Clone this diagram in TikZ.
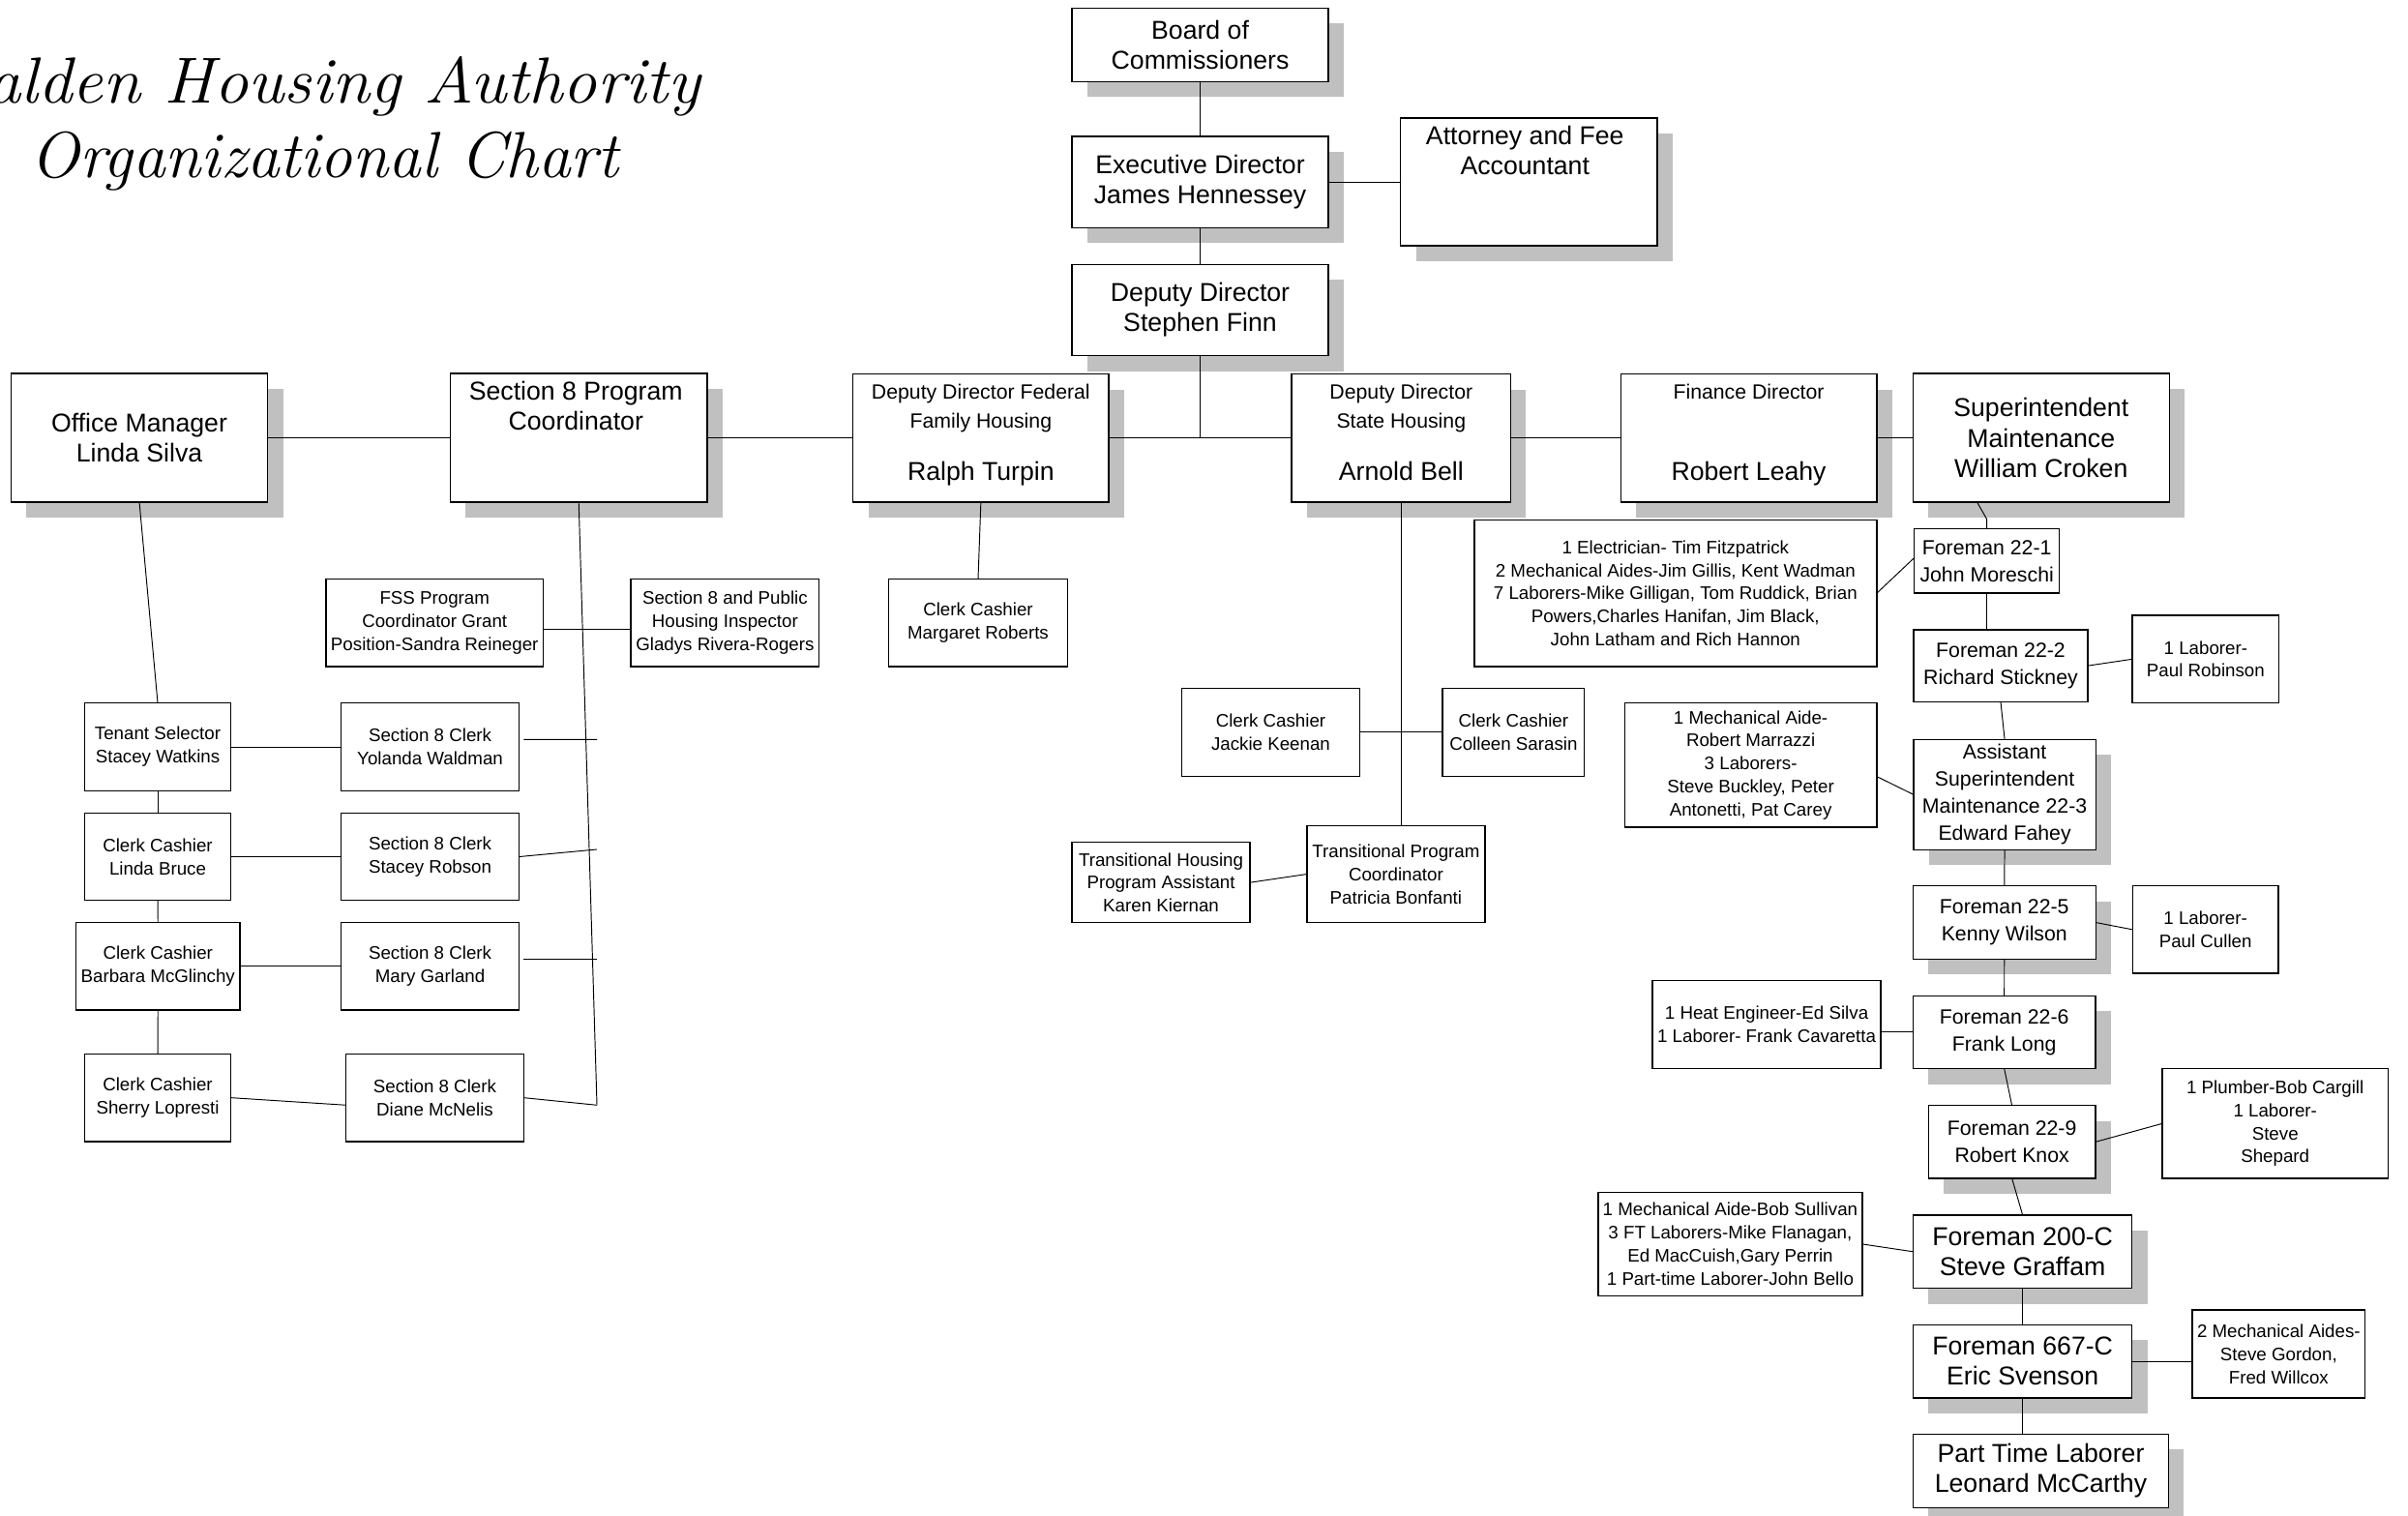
\documentclass[tikz,border=0pt]{standalone}
\usepackage{fontspec}
\newfontfamily\arial{Liberation Sans}
\usetikzlibrary{shadows,calc}
\definecolor{shgray}{RGB}{192,192,192}
\newcommand\fbig{\arial\fontsize{16.8}{19.6}\selectfont}
\newcommand\fmed{\arial\fontsize{13.4}{17.6}\selectfont}
\newcommand\fsml{\arial\fontsize{11.8}{15}\selectfont}
\newcommand\obx[7][box]{\node[#1, minimum width={(#5)-(#3)}, minimum height={(#6)-(#4)}] (#2) at ({((#3)+(#5))/2},{((#4)+(#6))/2}) {#7};}
\begin{document}
\begin{tikzpicture}[x=1pt, y=-1pt,
  box/.style={draw, line width=0.9pt, fill=white, inner sep=0pt, outer sep=0pt, align=center, font=\fsml},
  sbox/.style={box, drop shadow={shadow xshift=10pt, shadow yshift=-10pt, fill=shgray, opacity=1}},
  conn/.style={line width=0.6pt},
  lbl/.style={anchor=base, inner sep=0pt, align=center},
  ttl/.style={inner sep=0pt, font=\fontsize{42.4}{42.4}\selectfont\itshape}]
\useasboundingbox (0,0) rectangle (1568,987);
\fill[white] (0,0) rectangle (1568,987);
% title
\node[ttl, anchor=base east, xscale=1.05] (title1) at (456.4,67.2) {Malden Housing Authority};
\node[ttl, anchor=base] (title2) at (211.5,115.5) {Organizational Chart};
% top
\obx[sbox, font=\fbig]{board}{698.1}{5.3}{864.9}{53.1}{Board of\\Commissioners}
\obx[sbox, font=\fbig]{exec}{698.1}{88.8}{864.9}{148.2}{Executive Director\\James Hennessey}
\obx[sbox]{att}{912}{76.9}{1079}{160}{}
\obx[sbox, font=\fbig]{finn}{698.1}{172.2}{864.9}{231.6}{Deputy Director\\Stephen Finn}
% second row
\obx[sbox, font=\fbig]{om}{7.2}{243.2}{174.3}{327}{Office Manager\\Linda Silva}
\obx[sbox]{s8pc}{293.3}{243.2}{460.4}{327}{}
\obx[sbox]{fed}{555.4}{243.6}{722}{327}{}
\obx[sbox]{state}{841}{243.6}{983.7}{327}{}
\obx[sbox]{fin}{1055.4}{243.6}{1222}{327}{}
\obx[sbox, font=\fbig]{sup}{1245.6}{243.2}{1412.6}{327}{Superintendent\\Maintenance\\William Croken}
% left column
\obx{fss}{212.3}{376.9}{353.7}{434}{FSS Program\\Coordinator Grant\\Position-Sandra Reineger}
\obx{insp}{410.8}{376.9}{533.4}{434}{Section 8 and Public\\Housing Inspector\\Gladys Rivera-Rogers}
\obx{tenant}{55}{457.8}{150.4}{514.9}{Tenant Selector\\Stacey Watkins}
\obx{yol}{222}{457.8}{338.1}{514.9}{Section 8 Clerk\\Yolanda Waldman}
\obx{linda}{55}{529.4}{150.4}{586.3}{Clerk Cashier\\Linda Bruce}
\obx{stacey}{222}{529.4}{338.1}{586.3}{Section 8 Clerk\\Stacey Robson}
\obx{barb}{49.5}{600.6}{156.2}{657.7}{Clerk Cashier\\Barbara McGlinchy}
\obx{mary}{222}{600.6}{338.1}{657.7}{Section 8 Clerk\\Mary Garland}
\obx{sherry}{55}{686.2}{150.4}{743.4}{Clerk Cashier\\Sherry Lopresti}
\obx{diane}{225.3}{686.2}{341}{743.4}{Section 8 Clerk\\Diane McNelis}
% middle
\obx{marg}{578.8}{377}{695}{434}{Clerk Cashier\\Margaret Roberts}
\obx{jackie}{769.5}{448.3}{885.4}{505.4}{Clerk Cashier\\Jackie Keenan}
\obx{colleen}{939.4}{448.3}{1031.6}{505.4}{Clerk Cashier\\Colleen Sarasin}
\obx{tpc}{851}{537.6}{967}{600.8}{Transitional Program\\Coordinator\\Patricia Bonfanti}
\obx{thpa}{698}{548.5}{814}{600.8}{Transitional Housing\\Program Assistant\\Karen Kiernan}
% right
\obx{crew1}{960}{338.7}{1222}{434}{1 Electrician- Tim Fitzpatrick\\2 Mechanical Aides-Jim Gillis, Kent Wadman\\7 Laborers-Mike Gilligan, Tom Ruddick, Brian\\Powers,Charles Hanifan, Jim Black,\\John Latham and Rich Hannon}
\obx[box, font=\fmed]{f221}{1246.5}{344.4}{1341}{386.2}{Foreman 22-1\\John Moreschi}
\obx[box, font=\fmed]{f222}{1246}{410}{1359.5}{457}{Foreman 22-2\\Richard Stickney}
\obx{lab1}{1388.5}{400.6}{1484}{457.8}{1 Laborer-\\Paul Robinson}
\obx{crew2}{1058}{457.8}{1222}{538.6}{1 Mechanical Aide-\\Robert Marrazzi\\3 Laborers-\\Steve Buckley, Peter\\Antonetti, Pat Carey}
\obx[sbox, font=\fmed]{asst}{1246}{481.5}{1364.7}{553.3}{Assistant\\Superintendent\\Maintenance 22-3\\Edward Fahey}
\obx[sbox, font=\fmed]{f225}{1245.6}{576.9}{1364.7}{624.5}{Foreman 22-5\\Kenny Wilson}
\obx{cullen}{1388.6}{576.9}{1483.6}{633.7}{1 Laborer-\\Paul Cullen}
\obx{crew3}{1076}{638.6}{1224.7}{695.9}{1 Heat Engineer-Ed Silva\\1 Laborer- Frank Cavaretta}
\obx[sbox, font=\fmed]{f226}{1245.8}{648.4}{1364.4}{695.9}{Foreman 22-6\\Frank Long}
\obx[sbox, font=\fmed]{f229}{1255.8}{719.9}{1364.4}{767.3}{Foreman 22-9\\Robert Knox}
\obx{plumb}{1408}{695.9}{1555}{767.3}{1 Plumber-Bob Cargill\\1 Laborer-\\Steve\\Shepard}
\obx{crew4}{1040.7}{776.5}{1212.6}{843.7}{1 Mechanical Aide-Bob Sullivan\\3 FT Laborers-Mike Flanagan,\\Ed MacCuish,Gary Perrin\\1 Part-time Laborer-John Bello}
\obx[sbox, font=\fbig]{f200}{1245.8}{791.2}{1388.3}{838.9}{Foreman 200-C\\Steve Graffam}
\obx[sbox, font=\fbig]{f667}{1245.8}{862.6}{1388.3}{910.3}{Foreman 667-C\\Eric Svenson}
\obx{aides}{1427.6}{853}{1540}{910.3}{2 Mechanical Aides-\\Steve Gordon,\\Fred Willcox}
\obx[sbox, font=\fbig]{pt}{1245.8}{933.8}{1412}{981.7}{Part Time Laborer\\Leonard McCarthy}
% texts of top-aligned boxes
\node[lbl, font=\fbig] (att1) at (993,94.1) {Attorney and Fee};
\node[lbl, font=\fbig] (att2) at (993,114) {Accountant};
\node[lbl, font=\fbig] (s8t1) at (375,260.4) {Section 8 Program};
\node[lbl, font=\fbig] (s8t2) at (375,280.3) {Coordinator};
\node[lbl, font=\fmed] (fedt1) at (638.7,260) {Deputy Director Federal};
\node[lbl, font=\fmed] (fedt2) at (638.7,278.5) {Family Housing};
\node[lbl, font=\fbig] (fedt3) at (638.7,312.5) {Ralph Turpin};
\node[lbl, font=\fmed] (stt1) at (912.4,260) {Deputy Director};
\node[lbl, font=\fmed] (stt2) at (912.4,278.5) {State Housing};
\node[lbl, font=\fbig] (stt3) at (912.4,312.5) {Arnold Bell};
\node[lbl, font=\fmed] (fint1) at (1138.7,260) {Finance Director};
\node[lbl, font=\fbig] (fint2) at (1138.7,312.5) {Robert Leahy};
% connectors
\draw[conn] (board.south) -- (exec.north);
\draw[conn] (exec.south) -- (finn.north);
\draw[conn] (exec.east) -- (exec.east -| att.west);
\draw[conn] (finn.south) -- (finn.south |- fed.east);
\draw[conn] (om.east) -- (om.east -| s8pc.west);
\draw[conn] (s8pc.east) -- (s8pc.east -| fed.west);
\draw[conn] (fed.east) -- (state.west);
\draw[conn] (state.east) -- (fin.west);
\draw[conn] (fin.east) -- (fin.east -| sup.west);
\draw[conn] (om.south) -- (tenant.north);
\draw[conn] (tenant.south) -- (linda.north);
\draw[conn] (linda.south) -- (barb.north);
\draw[conn] (barb.south) -- (sherry.north);
\draw[conn] (tenant.east) -- (yol.west);
\draw[conn] (linda.east) -- (stacey.west);
\draw[conn] (barb.east) -- (mary.west);
\draw[conn] (sherry.east) -- ([yshift=-4.8pt]diane.west);
\coordinate (s8bot) at (388.7,719.6);
\coordinate (yolend) at (388.7,481.5);
\coordinate (stend) at (388.7,553.1);
\coordinate (maryend) at (388.7,624.5);
\draw[conn] (s8pc.south) -- (s8bot);
\draw[conn] ([xshift=2.9pt,yshift=4.85pt]yol.east) -- (yolend);
\draw[conn] (stacey.east) -- (stend);
\draw[conn] ([xshift=2.9pt,yshift=4.65pt]mary.east) -- (maryend);
\draw[conn] (diane.east) -- (s8bot);
\draw[conn] ([yshift=-4.5pt]fss.east) -- ([yshift=-4.5pt]fss.east -| insp.west);
\draw[conn] (fed.south) -- (marg.north);
\draw[conn] (state.south) -- (state.south |- tpc.north);
\draw[conn] (jackie.east) -- (colleen.west);
\draw[conn] (thpa.east) -- (tpc.west);
\coordinate (supk) at ($(f221.north)+(0,-6.3)$);
\draw[conn] ([xshift=-41.7pt]sup.south) -- (supk) -- (f221.north);
\draw[conn] (crew1.east) -- ([yshift=2.1pt]f221.west);
\draw[conn] (f221.south) -- (f221.south |- f222.north);
\draw[conn] (f222.south) -- (asst.north);
\draw[conn] (f222.east) -- (lab1.west);
\draw[conn] ([yshift=-7.4pt]crew2.east) -- (asst.west);
\draw[conn] (asst.south) -- (f225.north);
\draw[conn] (f225.east) -- (cullen.west);
\draw[conn] (f225.south) -- (f226.north);
\draw[conn] (f226.west -| crew3.east) -- (f226.west);
\draw[conn] (f226.south) -- (f229.north);
\draw[conn] (f229.east) -- (plumb.west);
\draw[conn] (f229.south) -- (f200.north);
\draw[conn] (crew4.east) -- (f200.west);
\draw[conn] (f200.south) -- (f667.north);
\draw[conn] (f667.east) -- (f667.east -| aides.west);
\draw[conn] (f667.south) -- (f667.south |- pt.north);
\end{tikzpicture}
\end{document}
